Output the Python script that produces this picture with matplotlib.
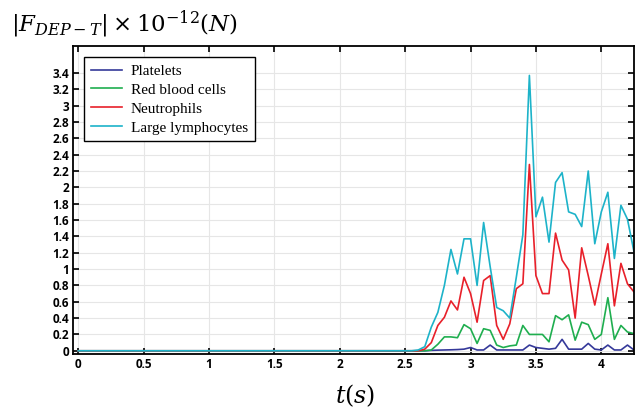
import matplotlib
matplotlib.use("Agg")
import matplotlib.pyplot as plt

# time samples (s); zero everywhere before 2.5 s
t = [0, 2.5, 2.55, 2.6, 2.65, 2.7, 2.75, 2.8, 2.85, 2.9, 2.95, 3.0, 3.05, 3.1,
     3.15, 3.2, 3.25, 3.3, 3.35, 3.4, 3.45, 3.5, 3.55, 3.6, 3.65, 3.7, 3.75,
     3.8, 3.85, 3.9, 3.95, 4.0, 4.05, 4.1, 4.15, 4.2, 4.25]

platelets = [0, 0, 0, 0, 0, 0.005, 0.008, 0.01, 0.012, 0.015, 0.02, 0.04, 0.01, 0.01,
             0.07, 0.01, 0.01, 0.01, 0.01, 0.01, 0.07, 0.04, 0.03, 0.02, 0.03, 0.14, 0.02,
             0.02, 0.02, 0.09, 0.02, 0.01, 0.07, 0.01, 0.01, 0.07, 0.01]

red_cells = [0, 0, 0, 0, 0, 0.01, 0.08, 0.17, 0.17, 0.16, 0.32, 0.27, 0.09, 0.27,
             0.25, 0.07, 0.04, 0.06, 0.07, 0.31, 0.20, 0.20, 0.20, 0.11, 0.43, 0.38, 0.44,
             0.13, 0.35, 0.32, 0.14, 0.20, 0.65, 0.14, 0.31, 0.23, 0.21]

neutrophils = [0, 0, 0, 0, 0.02, 0.10, 0.31, 0.41, 0.61, 0.50, 0.90, 0.70, 0.35, 0.86,
               0.92, 0.31, 0.14, 0.33, 0.76, 0.82, 2.28, 0.92, 0.70, 0.70, 1.44, 1.11, 0.99,
               0.40, 1.26, 0.92, 0.56, 0.94, 1.31, 0.55, 1.07, 0.82, 0.72]

lymphocytes = [0, 0, 0, 0.01, 0.05, 0.29, 0.47, 0.80, 1.24, 0.94, 1.37, 1.37, 0.80, 1.57,
               1.03, 0.53, 0.49, 0.40, 0.90, 1.42, 3.37, 1.64, 1.88, 1.33, 2.06, 2.18, 1.70,
               1.67, 1.52, 2.20, 1.31, 1.70, 1.94, 1.13, 1.78, 1.61, 1.21]

series = [
    ("Platelets", platelets, "#35399a"),
    ("Red blood cells", red_cells, "#1fae4f"),
    ("Neutrophils", neutrophils, "#e8202a"),
    ("Large lymphocytes", lymphocytes, "#1db3c9"),
]

xt = [0, 0.5, 1, 1.5, 2, 2.5, 3, 3.5, 4]
yt = [0, 0.2, 0.4, 0.6, 0.8, 1, 1.2, 1.4, 1.6, 1.8, 2, 2.2, 2.4, 2.6, 2.8, 3, 3.2, 3.4]

plt.rcParams["mathtext.fontset"] = "dejavuserif"

fig = plt.figure(figsize=(6.37, 4.20), dpi=100)
ax = fig.add_axes([0.1146, 0.157, 0.8807, 0.7335])

for name, vals, col in series:
    ax.plot(t, vals, color=col, lw=1.2, label=name)

ax.set_xlim(-0.04, 4.25)
ax.set_ylim(-0.04, 3.73)
ax.set_xticks(xt)
ax.set_xticklabels(["%g" % v for v in xt])
ax.set_yticks(yt)
ax.set_yticklabels(["%g" % v for v in yt])
ax.grid(True, color="#e6e6e6", lw=0.8)
ax.set_axisbelow(True)
ax.tick_params(direction="in", top=True, right=True, length=4, width=1.2, pad=3)
for lab in ax.get_xticklabels() + ax.get_yticklabels():
    lab.set_fontfamily("Open Sans")
    lab.set_fontsize(8.5)
    lab.set_fontweight("bold")
for sp in ax.spines.values():
    sp.set_linewidth(1.3)

leg = ax.legend(loc="upper left", bbox_to_anchor=(0.02, 0.963), fancybox=False,
                edgecolor="black", framealpha=1,
                prop={"family": "Liberation Serif", "size": 11},
                handlelength=2.0, handletextpad=0.6, borderpad=0.45,
                labelspacing=0.34, borderaxespad=0)
leg.get_frame().set_linewidth(1.0)

fig.text(0.018, 0.943, r"$|F_{DEP-T}|\times10^{-12}(N)$", fontsize=16.5, va="center")
fig.text(0.557, 0.058, r"$t(s)$", fontsize=17, ha="center", va="center")

fig.savefig("out.png", dpi=100)
